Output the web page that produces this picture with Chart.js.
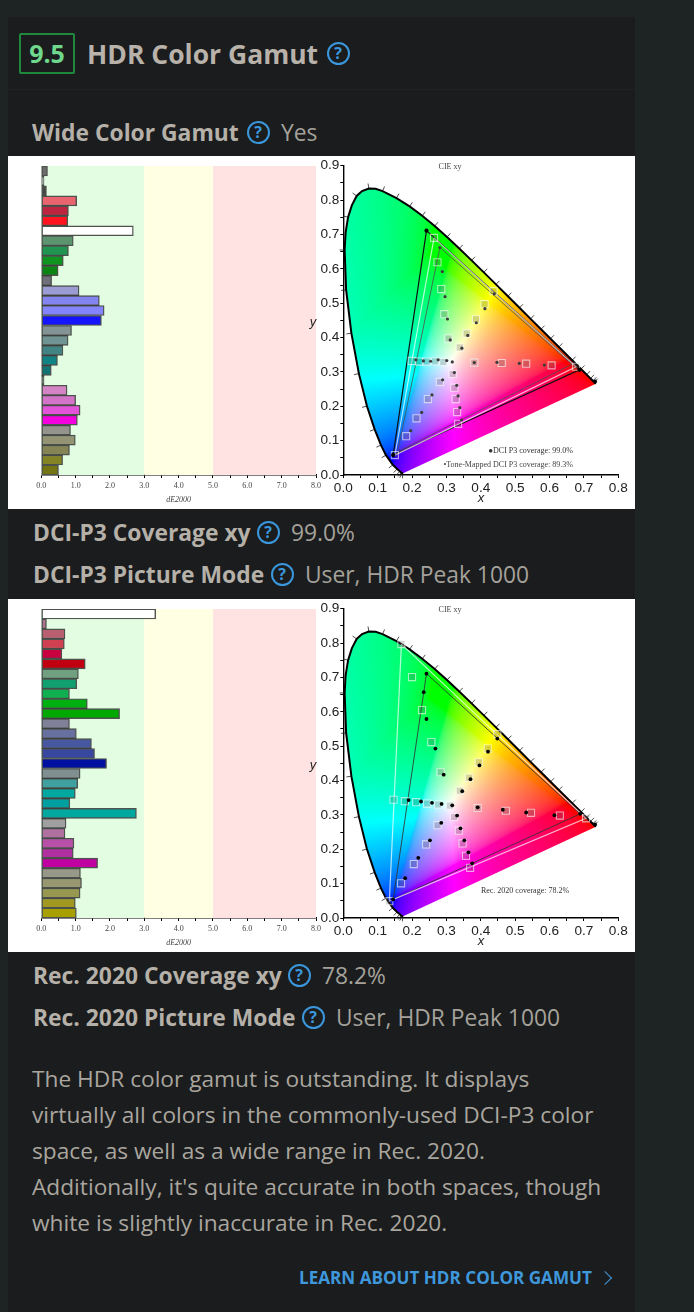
<!DOCTYPE html>
<html>
<head>
<meta charset="utf-8">
<title>HDR Color Gamut</title>
<script src="https://cdn.jsdelivr.net/npm/chart.js@4/dist/chart.umd.min.js"></script>
<style>
  html, body { margin: 0; padding: 0; background: #1e2324; }
  body { position: relative; width: 694px; height: 1312px; overflow: hidden; font-family: "Open Sans", sans-serif; }
  #panel { position: absolute; left: 8px; top: 17px; width: 627px; height: 1295px; background: #1a1c1e; }
  #divider { position: absolute; left: 8px; top: 89px; width: 627px; height: 1px; background: #202325; }
  .t { position: absolute; white-space: nowrap; line-height: 40px; height: 40px; margin-top: -20px; }
  .label { font-weight: 700; font-size: 22.85px; color: #b5b0a8; }
  .value { font-size: 22.8px; color: #a5a29b; }
  .q { position: absolute; width: 19px; height: 19px; margin: -11.5px 0 0 -11.5px; border: 2px solid #3a97dc; border-radius: 50%;
       color: #3a97dc; font-weight: 700; font-size: 16px; line-height: 19px; text-align: center; }
  #score { position: absolute; left: 19px; top: 33px; width: 52px; height: 37px; border: 2px solid #1f8a3d; border-radius: 2px;
           color: #6fd88c; font-weight: 700; font-size: 25px; line-height: 37px; text-align: center; }
  #title { font-weight: 700; font-size: 26.5px; color: #b8b2aa; }
  .sheet { position: absolute; left: 8px; width: 627px; height: 353px; background: #fff; }
  .sheet canvas { position: absolute; top: 0; filter: blur(0.4px); }
  #para { position: absolute; left: 32px; top: 1061px; font-size: 22.7px; line-height: 36px; color: #aaa69e; white-space: nowrap; }
  #more { font-weight: 700; font-size: 17.1px; color: #3f97dc; }
  #chev { position: absolute; left: 600px; top: 1273px; width: 9px; height: 9px; border-top: 1.6px solid #3f97dc; border-right: 1.6px solid #3f97dc; transform: rotate(45deg); }
</style>
</head>
<body>
<div id="panel"></div>
<div id="divider"></div>
<div id="score">9.5</div>
<div class="t" id="title" style="left:87px;top:54px">HDR Color Gamut</div><div class="q" style="left:338px;top:53px">?</div>
<div class="t label" style="left:32px;top:133px">Wide Color Gamut</div><div class="q" style="left:258px;top:132px">?</div><div class="t value" style="left:281px;top:133px">Yes</div>
<div class="sheet" style="top:156px"><canvas id="barP3" width="322" height="353" style="left:0"></canvas><canvas id="cieP3" width="335" height="353" style="left:292px"></canvas></div>
<div class="t label" style="left:33px;top:533px">DCI-P3 Coverage xy</div><div class="q" style="left:268px;top:532px">?</div><div class="t value" style="left:291px;top:533px">99.0%</div>
<div class="t label" style="left:33px;top:575px">DCI-P3 Picture Mode</div><div class="q" style="left:282px;top:574px">?</div><div class="t value" style="left:305px;top:575px">User, HDR Peak 1000</div>
<div class="sheet" style="top:599px"><canvas id="barRec" width="322" height="353" style="left:0"></canvas><canvas id="cieRec" width="335" height="353" style="left:292px"></canvas></div>
<div class="t label" style="left:33px;top:976px">Rec. 2020 Coverage xy</div><div class="q" style="left:299px;top:975px">?</div><div class="t value" style="left:322px;top:976px">78.2%</div>
<div class="t label" style="left:33px;top:1018px">Rec. 2020 Picture Mode</div><div class="q" style="left:313px;top:1017px">?</div><div class="t value" style="left:336px;top:1018px">User, HDR Peak 1000</div>
<div id="para">The HDR color gamut is outstanding. It displays<br>virtually all colors in the commonly-used DCI-P3 color<br>space, as well as a wide range in Rec. 2020.<br>Additionally, it's quite accurate in both spaces, though<br>white is slightly inaccurate in Rec. 2020.</div>
<div class="t" id="more" style="left:299px;top:1278px">LEARN ABOUT HDR COLOR GAMUT</div><div id="chev"></div>

<script>
// dE2000 bars, top to bottom
const barValuesP3 = [0.18, 0.08, 0.15, 1.03, 0.79, 0.77, 2.68, 0.93, 0.79, 0.64, 0.49, 0.30, 1.10, 1.69, 1.83, 1.75,
  0.88, 0.78, 0.63, 0.47, 0.29, 0.08, 0.75, 1.00, 1.13, 1.05, 0.85, 0.99, 0.82, 0.62, 0.50];
const barColorsP3 = ["#6c6c6c", "#b0b0b0", "#484848", "#ea6470", "#bc2440", "#ff1420", "#ffffff", "#5c9470", "#209450", "#109420",
  "#0c8414", "#70707a", "#9c9cd4", "#8484f0", "#8484ff", "#1414ff", "#849494", "#709494", "#408484", "#108484", "#107474",
  "#303838", "#d484c4", "#d474c8", "#e454d8", "#f400e0", "#94948c", "#949474", "#848454", "#848424", "#747414"];
const barValuesRec = [3.33, 0.15, 0.69, 0.67, 0.60, 1.28, 1.08, 1.03, 0.82, 1.34, 2.28, 0.82, 1.02, 1.46, 1.55, 1.90,
  1.13, 1.06, 0.99, 0.83, 2.77, 0.72, 0.69, 0.95, 0.93, 1.64, 1.14, 1.17, 1.13, 0.99, 1.02];
const barColorsRec = ["#ffffff", "#b07090", "#b86070", "#d04050", "#c80040", "#c00010", "#70a080", "#10a070", "#10b050", "#00b010",
  "#00a800", "#808098", "#6870a0", "#4858a0", "#3848a0", "#0010a0", "#809090", "#40a0a0", "#00a8a0", "#00a0a0", "#00a8a0",
  "#a0a0a0", "#b070a0", "#b850a8", "#b030a0", "#c000a0", "#989888", "#989870", "#989850", "#a09820", "#a8a000"];
const zoneStops = [0, 3, 5, 8];
const zoneColors = ["#e3fde3", "#feffe3", "#ffe3e3"];

// spectral locus, 380 nm to 700 nm, with a few in-between points where it bends hard
const locusX = [0.1741, 0.1726, 0.1714, 0.1689, 0.1644, 0.1566, 0.1440, 0.1241, 0.1096, 0.0913, 0.0687, 0.0454, 0.0235, 0.0082, 0.0039, 0.0068, 0.0139,
  0.0248, 0.0389, 0.0545, 0.0743, 0.0940, 0.1142, 0.1547, 0.1929, 0.2296, 0.2658, 0.3016, 0.3373, 0.3731, 0.4087, 0.4441, 0.4788, 0.5125, 0.5448, 0.5752, 0.6029, 0.6270,
  0.6658, 0.6915, 0.7079, 0.7190, 0.7260, 0.7300, 0.7347];
const locusY = [0.0050, 0.0048, 0.0051, 0.0069, 0.0109, 0.0177, 0.0297, 0.0578, 0.0868, 0.1327, 0.2007, 0.2950, 0.4127, 0.5384, 0.6548, 0.7060, 0.7502,
  0.7847, 0.8120, 0.8262, 0.8338, 0.8326, 0.8262, 0.8059, 0.7816, 0.7543, 0.7243, 0.6923, 0.6589, 0.6245, 0.5896, 0.5547, 0.5202, 0.4866, 0.4544, 0.4242, 0.3965, 0.3725,
  0.3340, 0.3083, 0.2920, 0.2809, 0.2740, 0.2700, 0.2653];
const locusNoTick = [15, 17, 19, 21];

// DCI-P3 chart
const p3DotX = [0.281, 0.288, 0.296, 0.303, 0.311, 0.345, 0.362, 0.387, 0.412, 0.439, 0.381, 0.447, 0.512, 0.585,
  0.301, 0.276, 0.254, 0.233, 0.211, 0.317, 0.323, 0.330, 0.334, 0.339, 0.344, 0.289, 0.258, 0.228, 0.196];
const p3DotY = [0.662, 0.592, 0.519, 0.454, 0.393, 0.369, 0.406, 0.443, 0.484, 0.527, 0.327, 0.328, 0.325, 0.320,
  0.333, 0.335, 0.331, 0.332, 0.335, 0.329, 0.298, 0.261, 0.230, 0.196, 0.160, 0.277, 0.233, 0.182, 0.129];
const p3PeakX = [0.242, 0.687, 0.145, 0.732];
const p3PeakY = [0.711, 0.306, 0.058, 0.272];
const p3SquareX = [0.264, 0.274, 0.285, 0.294, 0.306, 0.339, 0.359, 0.386, 0.411, 0.437, 0.381, 0.461, 0.532, 0.606, 0.677,
  0.291, 0.267, 0.242, 0.221, 0.199, 0.318, 0.323, 0.327, 0.331, 0.334, 0.281, 0.246, 0.213, 0.183, 0.150];
const p3SquareY = [0.690, 0.619, 0.541, 0.468, 0.397, 0.371, 0.412, 0.453, 0.497, 0.535, 0.327, 0.326, 0.324, 0.319, 0.315,
  0.329, 0.331, 0.330, 0.330, 0.332, 0.294, 0.254, 0.221, 0.183, 0.149, 0.271, 0.221, 0.165, 0.113, 0.058];
const p3TriX = [0.242, 0.687, 0.145, 0.242];
const p3TriY = [0.711, 0.306, 0.058, 0.711];
const p3TargetX = [0.264, 0.677, 0.150, 0.264];
const p3TargetY = [0.690, 0.315, 0.058, 0.690];
const p3ToneX = [0.281, 0.665, 0.158, 0.281];
const p3ToneY = [0.662, 0.322, 0.068, 0.662];

// Rec. 2020 chart
const recDotX = [0.242, 0.234, 0.242, 0.268, 0.292, 0.346, 0.370, 0.396, 0.421, 0.448, 0.391, 0.464, 0.532, 0.614, 0.689,
  0.286, 0.258, 0.226, 0.190, 0.317, 0.331, 0.341, 0.352, 0.364, 0.375, 0.285, 0.252, 0.218, 0.180, 0.145];
const recDotY = [0.711, 0.657, 0.579, 0.493, 0.417, 0.369, 0.404, 0.444, 0.484, 0.522, 0.322, 0.315, 0.307, 0.299, 0.303,
  0.332, 0.335, 0.339, 0.343, 0.328, 0.298, 0.261, 0.226, 0.191, 0.159, 0.277, 0.226, 0.175, 0.116, 0.054];
const recPeakX = [0.732];
const recPeakY = [0.272];
const recSquareX = [0.169, 0.200, 0.229, 0.256, 0.283, 0.339, 0.366, 0.394, 0.420, 0.448, 0.391, 0.473, 0.546, 0.630, 0.706,
  0.310, 0.276, 0.244, 0.212, 0.179, 0.146, 0.322, 0.336, 0.347, 0.357, 0.369, 0.274, 0.241, 0.205, 0.168, 0.134];
const recSquareY = [0.797, 0.701, 0.605, 0.512, 0.424, 0.370, 0.408, 0.453, 0.493, 0.535, 0.320, 0.312, 0.306, 0.298, 0.290,
  0.327, 0.330, 0.333, 0.337, 0.340, 0.344, 0.294, 0.254, 0.217, 0.181, 0.146, 0.270, 0.214, 0.157, 0.101, 0.049];
const recTriX = [0.242, 0.689, 0.145, 0.242];
const recTriY = [0.711, 0.303, 0.054, 0.711];
const recTargetX = [0.169, 0.706, 0.134, 0.169];
const recTargetY = [0.797, 0.290, 0.049, 0.797];

const pts = (xs, ys) => xs.map((x, i) => ({ x, y: ys[i] }));

const zonePlugin = {
  id: "zones",
  beforeDatasetsDraw(chart) {
    const { ctx, chartArea, scales } = chart;
    zoneColors.forEach((c, i) => {
      const a = scales.x.getPixelForValue(zoneStops[i]);
      const b = scales.x.getPixelForValue(zoneStops[i + 1]);
      ctx.fillStyle = c;
      ctx.fillRect(a, chartArea.top, b - a, chartArea.height);
    });
  },
};

function gamutColor(x, y) {
  const X = x / y;
  const Z = (1 - x - y) / y;
  const lr = 3.2406 * X - 1.5372 - 0.4986 * Z;
  const g = Math.max(0, -0.9689 * X + 1.8758 + 0.0415 * Z);
  let b = Math.max(0, 0.0557 * X - 0.204 + 1.057 * Z);
  const r = Math.max(0, lr);
  // the original leans teal on the far side of the green corner
  if (lr < 0 && g > 0) b = Math.max(b * 0.75, g * 0.6 * Math.max(0, -lr / g - 0.25));
  const m = Math.max(r, g, b) || 1;
  return [r / m, g / m, b / m].map((v) => Math.round(255 * Math.pow(v, 1 / 2.2)));
}

// paints the horseshoe behind the datasets, clipped to the locus
const gamutPlugin = {
  id: "gamut",
  beforeDatasetsDraw(chart) {
    const { ctx, chartArea, scales } = chart;
    const w = Math.ceil(chartArea.width);
    const h = Math.ceil(chartArea.height);
    const off = document.createElement("canvas");
    off.width = w;
    off.height = h;
    const offCtx = off.getContext("2d");
    const img = offCtx.createImageData(w, h);
    for (let j = 0; j < h; j++) {
      const y = scales.y.getValueForPixel(chartArea.top + j + 0.5);
      for (let i = 0; i < w; i++) {
        const x = scales.x.getValueForPixel(chartArea.left + i + 0.5);
        if (y <= 0) continue;
        const c = gamutColor(x, y);
        const k = (j * w + i) * 4;
        img.data[k] = c[0];
        img.data[k + 1] = c[1];
        img.data[k + 2] = c[2];
        img.data[k + 3] = 255;
      }
    }
    offCtx.putImageData(img, 0, 0);
    ctx.save();
    ctx.beginPath();
    locusX.forEach((x, i) => {
      ctx.lineTo(scales.x.getPixelForValue(x), scales.y.getPixelForValue(locusY[i]));
    });
    ctx.closePath();
    ctx.clip();
    ctx.drawImage(off, chartArea.left, chartArea.top);
    ctx.restore();

    // wavelength ticks outside the locus
    ctx.save();
    ctx.strokeStyle = "#222";
    ctx.lineWidth = 0.8;
    for (let i = 1; i < locusX.length - 1; i++) {
      if (locusNoTick.includes(i)) continue;
      const px = scales.x.getPixelForValue(locusX[i]);
      const py = scales.y.getPixelForValue(locusY[i]);
      const dx = scales.x.getPixelForValue(locusX[i + 1]) - scales.x.getPixelForValue(locusX[i - 1]);
      const dy = scales.y.getPixelForValue(locusY[i + 1]) - scales.y.getPixelForValue(locusY[i - 1]);
      const len = Math.hypot(dx, dy) || 1;
      ctx.beginPath();
      ctx.moveTo(px, py);
      ctx.lineTo(px + (dy / len) * 5, py - (dx / len) * 5);
      ctx.stroke();
    }
    ctx.restore();
  },
};

const notesPlugin = {
  id: "notes",
  afterDraw(chart, args, opts) {
    const { ctx } = chart;
    opts.items.forEach((n) => {
      ctx.font = n.font;
      ctx.fillStyle = n.color;
      ctx.textAlign = n.align;
      ctx.textBaseline = "middle";
      ctx.fillText(n.text, n.x, n.y);
    });
  },
};

function barChart(id, values, colors) {
  return new Chart(document.getElementById(id), {
    type: "bar",
    data: {
      labels: values.map((v, i) => i + 1),
      datasets: [{
        data: values,
        backgroundColor: colors,
        borderColor: "rgba(40,40,40,0.8)",
        borderWidth: 1.4,
        borderSkipped: false,
        barPercentage: 1,
        categoryPercentage: 1,
      }],
    },
    plugins: [zonePlugin],
    options: {
      indexAxis: "y",
      responsive: false,
      animation: false,
      layout: { padding: { left: 0, right: 14, top: 10, bottom: 0 } },
      plugins: { legend: { display: false }, tooltip: { enabled: false } },
      scales: {
        x: {
          min: 0,
          max: 8,
          afterFit: (s) => { s.height = 34; },
          border: { color: "#000", width: 1.4 },
          grid: { drawOnChartArea: false, color: "#000", tickLength: 3 },
          ticks: {
            stepSize: 0.5,
            autoSkip: false,
            maxRotation: 0,
            padding: 3,
            color: "#444",
            font: { family: "Liberation Serif", size: 8 },
            callback: (v) => (v % 1 === 0 ? v.toFixed(1) : ""),
          },
          title: {
            display: true,
            text: "dE2000",
            color: "#444",
            font: { family: "Liberation Serif", size: 8, style: "italic" },
            padding: { top: 0, bottom: 4 },
          },
        },
        y: {
          afterFit: (s) => { s.width = 33.3; },
          border: { color: "#555", width: 1 },
          grid: { display: false },
          ticks: { display: false },
        },
      },
    },
  });
}

function cieChart(id, series, notes) {
  const datasets = [
    { data: pts(series.peakX, series.peakY), pointRadius: 2.1, backgroundColor: "#000", borderWidth: 0, showLine: false },
    { data: pts(series.dotX, series.dotY), pointRadius: series.dotRadius, backgroundColor: series.dotColor, borderWidth: 0, showLine: false },
    { data: pts(series.squareX, series.squareY), pointStyle: "rect", pointRadius: 5, backgroundColor: "rgba(90,90,90,0.25)",
      borderColor: "rgba(255,255,255,0.6)", borderWidth: 1.1, showLine: false },
  ];
  series.lines.forEach((l) => {
    datasets.push({ data: pts(l.x, l.y), showLine: true, pointRadius: 0, borderColor: l.color, borderWidth: l.width, tension: 0 });
  });
  datasets.push({ data: pts(locusX, locusY), showLine: true, pointRadius: 0, borderColor: "#000", borderWidth: 2, tension: 0 });
  return new Chart(document.getElementById(id), {
    type: "scatter",
    data: { datasets },
    plugins: [gamutPlugin, notesPlugin],
    options: {
      responsive: false,
      animation: false,
      layout: { padding: { left: 0, right: 16.7, top: 9.7, bottom: 0 } },
      plugins: {
        legend: { display: false },
        tooltip: { enabled: false },
        notes: { items: notes },
      },
      scales: {
        x: {
          type: "linear",
          min: 0,
          max: 0.8,
          afterFit: (s) => { s.height = 34; },
          border: { color: "#000", width: 1.4 },
          grid: { drawOnChartArea: false, color: "#000", tickLength: 3 },
          ticks: {
            stepSize: 0.05,
            autoSkip: false,
            maxRotation: 0,
            padding: 2,
            color: "#222",
            font: { family: "Liberation Sans", size: 13.6 },
            callback: (v) => (Math.round(v * 100) % 10 === 0 ? v.toFixed(1) : ""),
          },
        },
        y: {
          type: "linear",
          min: 0,
          max: 0.9,
          afterFit: (s) => { s.width = 43.3; },
          border: { color: "#000", width: 1.4 },
          grid: { drawOnChartArea: false, color: "#000", tickLength: 3 },
          ticks: {
            stepSize: 0.05,
            autoSkip: false,
            padding: 1,
            color: "#222",
            font: { family: "Liberation Sans", size: 13.6 },
            callback: (v) => (Math.round(v * 100) % 10 === 0 ? v.toFixed(1) : ""),
          },
        },
      },
    },
  });
}

const axisNotes = [
  { text: "CIE xy", x: 150, y: 11, font: "8px 'Liberation Serif'", color: "#444", align: "center" },
  { text: "x", x: 181, y: 342, font: "italic 13px 'Liberation Sans'", color: "#222", align: "center" },
  { text: "y", x: 13, y: 166, font: "italic 13px 'Liberation Sans'", color: "#222", align: "center" },
];

barChart("barP3", barValuesP3, barColorsP3);
barChart("barRec", barValuesRec, barColorsRec);

cieChart("cieP3", {
  dotX: p3DotX, dotY: p3DotY, dotColor: "#3c3c3c", dotRadius: 1.6,
  peakX: p3PeakX, peakY: p3PeakY,
  squareX: p3SquareX, squareY: p3SquareY,
  lines: [
    { x: p3TargetX, y: p3TargetY, color: "rgba(255,255,255,0.7)", width: 1.2 },
    { x: p3ToneX, y: p3ToneY, color: "rgba(80,80,80,0.8)", width: 1 },
    { x: p3TriX, y: p3TriY, color: "#111", width: 1.2 },
  ],
}, axisNotes.concat([
  { text: "\u25CFDCI P3 coverage: 99.0%", x: 273, y: 295, font: "8px 'Liberation Serif'", color: "#333", align: "right" },
  { text: "\u2022Tone-Mapped DCI P3 coverage: 89.3%", x: 273, y: 308.5, font: "8px 'Liberation Serif'", color: "#444", align: "right" },
]));

cieChart("cieRec", {
  dotX: recDotX, dotY: recDotY, dotColor: "#000", dotRadius: 1.9,
  peakX: recPeakX, peakY: recPeakY,
  squareX: recSquareX, squareY: recSquareY,
  lines: [
    { x: recTargetX, y: recTargetY, color: "rgba(255,255,255,0.7)", width: 1.2 },
    { x: recTriX, y: recTriY, color: "rgba(50,50,50,0.85)", width: 1 },
  ],
}, axisNotes.concat([
  { text: "Rec. 2020 coverage: 78.2%", x: 225, y: 291.5, font: "8px 'Liberation Serif'", color: "#333", align: "center" },
]));
</script>
</body>
</html>
